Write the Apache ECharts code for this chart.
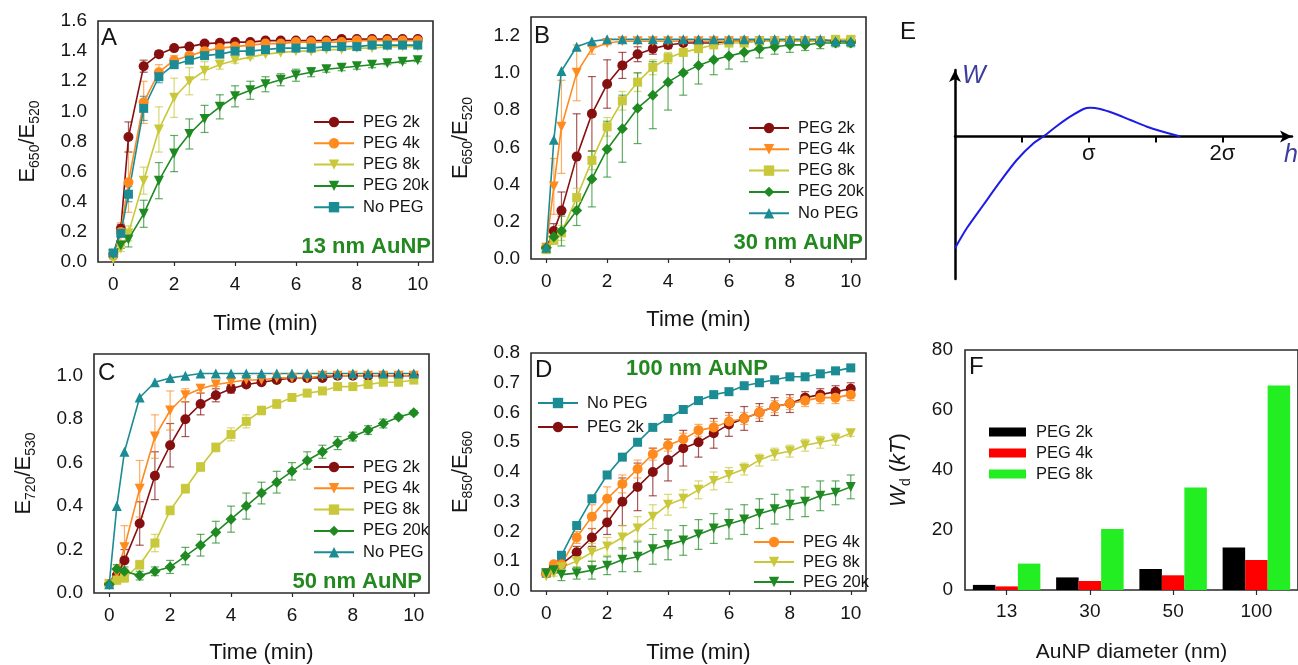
<!DOCTYPE html>
<html><head><meta charset="utf-8">
<script src="https://cdn.jsdelivr.net/npm/echarts@6/dist/echarts.min.js"></script>
<style>html,body{margin:0;padding:0;background:#fff}#c{width:1298px;height:665px}</style>
</head><body><div id="c"></div>
<script>
// ---------- data ----------
const TIME = [0,0.25,0.5,1,1.5,2,2.5,3,3.5,4,4.5,5,5.5,6,6.5,7,7.5,8,8.5,9,9.5,10];
const X_TICKS = [0,2,4,6,8,10];
const A_Y_TICKS = [0,0.2,0.4,0.6,0.8,1.0,1.2,1.4,1.6];
const B_Y_TICKS = [0,0.2,0.4,0.6,0.8,1.0,1.2];
const C_Y_TICKS = [0,0.2,0.4,0.6,0.8,1.0];
const D_Y_TICKS = [0,0.1,0.2,0.3,0.4,0.5,0.6,0.7,0.8];

// Panel A (13 nm)
const A_2K  = [0.05,0.22,0.83,1.30,1.38,1.42,1.43,1.45,1.455,1.46,1.46,1.47,1.47,1.47,1.47,1.47,1.48,1.48,1.48,1.48,1.48,1.48];
const A_4K  = [0.04,0.20,0.53,1.06,1.26,1.34,1.37,1.40,1.42,1.43,1.44,1.45,1.45,1.46,1.46,1.46,1.46,1.47,1.47,1.47,1.47,1.47];
const A_8K  = [0.02,0.09,0.19,0.54,0.88,1.09,1.20,1.27,1.31,1.34,1.36,1.38,1.39,1.40,1.40,1.41,1.41,1.42,1.42,1.43,1.43,1.43];
const A_20K = [0.05,0.11,0.15,0.32,0.54,0.72,0.85,0.95,1.03,1.10,1.14,1.18,1.21,1.24,1.26,1.28,1.29,1.30,1.31,1.32,1.33,1.34];
const A_NO  = [0.06,0.19,0.45,1.02,1.23,1.31,1.34,1.37,1.38,1.40,1.40,1.41,1.42,1.42,1.42,1.43,1.43,1.43,1.44,1.44,1.44,1.44];
const A_2K_ERR  = [0,0.03,0.10,0.04,0.02,0.01,0,0,0,0,0,0,0,0,0,0,0,0,0,0,0,0];
const A_4K_ERR  = [0,0.06,0.20,0.14,0.05,0.03,0.02,0,0,0,0,0,0,0,0,0,0,0,0,0,0,0];
const A_8K_ERR  = [0,0.02,0.05,0.09,0.15,0.13,0.09,0.06,0.03,0.02,0.01,0,0,0,0,0,0,0,0,0,0,0];
const A_20K_ERR = [0,0.02,0.05,0.09,0.12,0.12,0.10,0.09,0.08,0.07,0.06,0.05,0.04,0.04,0.03,0.02,0.02,0.02,0.02,0.01,0.01,0.01];
const A_NO_ERR  = [0,0.02,0.05,0.08,0.04,0.02,0.01,0,0,0,0,0,0,0,0,0,0,0,0,0,0,0];

// Panel B (30 nm)
const B_2K  = [0.06,0.15,0.26,0.55,0.78,0.94,1.04,1.10,1.13,1.15,1.16,1.16,1.16,1.17,1.17,1.17,1.17,1.17,1.17,1.17,1.17,1.17];
const B_4K  = [0.06,0.39,0.71,1.00,1.13,1.16,1.17,1.17,1.17,1.17,1.17,1.17,1.17,1.17,1.17,1.17,1.17,1.17,1.17,1.17,1.17,1.17];
const B_8K  = [0.05,0.10,0.14,0.33,0.53,0.71,0.85,0.95,1.03,1.08,1.11,1.13,1.15,1.16,1.16,1.17,1.17,1.17,1.17,1.17,1.18,1.18];
const B_20K = [0.06,0.12,0.15,0.26,0.43,0.59,0.70,0.81,0.88,0.95,1.00,1.04,1.07,1.09,1.11,1.13,1.14,1.15,1.15,1.16,1.16,1.16];
const B_NO  = [0.06,0.64,1.01,1.14,1.17,1.18,1.18,1.18,1.18,1.18,1.18,1.18,1.18,1.18,1.18,1.18,1.18,1.18,1.18,1.18,1.17,1.17];
const B_2K_ERR  = [0,0.04,0.10,0.23,0.20,0.13,0.07,0.04,0.03,0.02,0.01,0,0,0,0,0,0,0,0,0,0,0];
const B_4K_ERR  = [0,0.15,0.25,0.15,0.03,0.01,0,0,0,0,0,0,0,0,0,0,0,0,0,0,0,0];
const B_8K_ERR  = [0,0.02,0.04,0.05,0.05,0.05,0.05,0.05,0.04,0.03,0.02,0.01,0,0,0,0,0,0,0,0,0,0];
const B_20K_ERR = [0,0.03,0.08,0.08,0.15,0.15,0.18,0.19,0.18,0.15,0.12,0.10,0.08,0.07,0.05,0.05,0.04,0.04,0.03,0.03,0.02,0.02];
const B_NO_ERR  = [0,0,0,0,0,0,0,0,0,0,0,0,0,0,0,0,0,0,0,0,0,0];

// Panel C (50 nm)
const C_2K  = [0.04,0.08,0.15,0.32,0.54,0.68,0.80,0.87,0.91,0.94,0.96,0.97,0.98,0.99,0.99,0.99,1.00,1.00,1.00,1.00,1.00,1.00];
const C_4K  = [0.04,0.09,0.21,0.48,0.72,0.84,0.91,0.94,0.96,0.97,0.98,0.98,0.99,0.99,0.99,1.00,1.00,1.00,1.00,1.00,1.00,1.00];
const C_8K  = [0.04,0.06,0.07,0.13,0.23,0.38,0.48,0.58,0.67,0.73,0.79,0.84,0.87,0.90,0.92,0.93,0.95,0.95,0.96,0.97,0.97,0.98];
const C_20K = [0.04,0.11,0.10,0.08,0.10,0.12,0.17,0.22,0.28,0.34,0.40,0.46,0.51,0.56,0.61,0.65,0.69,0.72,0.75,0.78,0.81,0.83];
const C_NO  = [0.04,0.40,0.65,0.90,0.97,0.99,1.00,1.01,1.01,1.01,1.01,1.01,1.01,1.01,1.01,1.01,1.01,1.01,1.01,1.01,1.01,1.01];
const C_2K_ERR  = [0,0.03,0.05,0.10,0.11,0.10,0.08,0.05,0.03,0.02,0.01,0,0,0,0,0,0,0,0,0,0,0];
const C_4K_ERR  = [0,0.04,0.10,0.13,0.10,0.09,0.03,0.02,0.01,0,0,0,0,0,0,0,0,0,0,0,0,0];
const C_8K_ERR  = [0,0.02,0.02,0.02,0.04,0.02,0.02,0.02,0.02,0.03,0.03,0.02,0.02,0.01,0.01,0.01,0.01,0.01,0.01,0.01,0.01,0.01];
const C_20K_ERR = [0,0.02,0.02,0.02,0.02,0.03,0.04,0.05,0.05,0.06,0.06,0.05,0.05,0.04,0.04,0.03,0.03,0.02,0.02,0.02,0.01,0.01];
const C_NO_ERR  = [0,0,0,0,0,0,0,0,0,0,0,0,0,0,0,0,0,0,0,0,0,0];

// Panel D (100 nm)
const D_NO  = [0.06,0.08,0.12,0.22,0.31,0.39,0.45,0.50,0.55,0.58,0.61,0.64,0.66,0.67,0.69,0.70,0.71,0.72,0.72,0.73,0.74,0.75];
const D_2K  = [0.06,0.08,0.09,0.13,0.18,0.23,0.30,0.35,0.40,0.44,0.48,0.50,0.53,0.56,0.58,0.60,0.62,0.63,0.65,0.66,0.67,0.68];
const D_4K  = [0.06,0.09,0.09,0.18,0.25,0.31,0.36,0.41,0.46,0.49,0.51,0.54,0.55,0.57,0.58,0.60,0.62,0.63,0.64,0.65,0.65,0.66];
const D_8K  = [0.05,0.06,0.08,0.10,0.13,0.15,0.18,0.21,0.25,0.29,0.31,0.34,0.37,0.39,0.41,0.44,0.46,0.47,0.49,0.50,0.51,0.53];
const D_20K = [0.06,0.07,0.055,0.06,0.07,0.085,0.105,0.115,0.14,0.155,0.17,0.19,0.21,0.225,0.24,0.26,0.275,0.29,0.30,0.32,0.33,0.35];
const D_NO_ERR  = [0,0,0,0,0,0,0,0,0,0,0,0,0,0,0,0,0,0,0,0,0,0];
const D_2K_ERR  = [0,0.01,0.01,0.02,0.03,0.04,0.08,0.08,0.08,0.07,0.06,0.05,0.05,0.04,0.04,0.03,0.03,0.03,0.02,0.02,0.02,0.02];
const D_4K_ERR  = [0,0.01,0.01,0.02,0.04,0.04,0.03,0.03,0.02,0.02,0.02,0.02,0.02,0.02,0.02,0.02,0.02,0.02,0.02,0.02,0.02,0.02];
const D_8K_ERR  = [0,0.01,0.01,0.02,0.03,0.03,0.04,0.04,0.04,0.035,0.03,0.03,0.03,0.025,0.02,0.02,0.02,0.02,0.02,0.02,0.02,0.01];
const D_20K_ERR = [0,0.01,0.02,0.02,0.03,0.03,0.04,0.05,0.05,0.05,0.05,0.05,0.05,0.05,0.05,0.05,0.05,0.05,0.05,0.05,0.04,0.04];

// Panel E (schematic potential curve, h in units of sigma)
const E_H = [0,0.088,0.212,0.337,0.462,0.587,0.661,0.762,0.861,0.961,1.011,1.086,1.186,1.311,1.436,1.536,1.685];
const E_W = [-11.18,-9.18,-6.85,-4.52,-2.35,-0.68,0,1.05,1.98,2.75,2.88,2.75,2.32,1.65,0.98,0.55,0];
const E_TICKS = [0.5,1,1.5,2];
const E_LABELS = [1,2];

// Panel F (bars)
const F_CATS = ['13','30','50','100'];
const F_2K = [1.7,4.2,7.0,14.2];
const F_4K = [1.2,3.0,4.9,10.0];
const F_8K = [8.8,20.3,34.2,68.2];

// ---------- styling ----------
const FONT = '"Liberation Sans", Arial, sans-serif';
const TXT = '#151515';
const COL = {k2:'#861010', k4:'#ff8a1e', k8:'#c8c83a', k20:'#1f8a22', no:'#1b8b94'};

const grids = [], xAxes = [], yAxes = [], series = [], legends = [];

function errRender(color){
  return function(params, api){
    const x = api.value(0);
    const lo = api.coord([x, api.value(1)]);
    const hi = api.coord([x, api.value(2)]);
    const w = 4;
    const st = {stroke: color, lineWidth: 1.2, opacity: 0.7};
    return {type:'group', children:[
      {type:'line', shape:{x1:lo[0],y1:lo[1],x2:hi[0],y2:hi[1]}, style:st},
      {type:'line', shape:{x1:lo[0]-w,y1:lo[1],x2:lo[0]+w,y2:lo[1]}, style:st},
      {type:'line', shape:{x1:hi[0]-w,y1:hi[1],x2:hi[0]+w,y2:hi[1]}, style:st}
    ]};
  };
}

const eRich = {
  m:{fontSize:22, fontFamily:FONT, color:TXT, lineHeight:28, verticalAlign:'middle'},
  s:{fontSize:14, fontFamily:FONT, color:TXT, lineHeight:14, verticalAlign:'bottom'}
};
function eName(a,b){ return '{m|E}{s|'+a+'}{m|/E}{s|'+b+'}'; }

function addPanel(p){
  const gi = grids.length;
  grids.push({left:p.left, top:p.top, width:p.width, height:p.height, show:true,
    borderColor:'#2a2a2a', borderWidth:1.6, backgroundColor:'transparent'});
  xAxes.push({type:'value', gridIndex:gi, min:-0.5, max:10.5,
    axisLine:{show:false}, splitLine:{show:false},
    axisTick:{show:true, customValues:X_TICKS, length:4, lineStyle:{color:'#2a2a2a', width:1.2}},
    axisLabel:{customValues:X_TICKS, fontSize:19, color:TXT, fontFamily:FONT, margin:13},
    name:'Time (min)', nameLocation:'middle', nameGap:p.xGap,
    nameTextStyle:{fontSize:22, color:TXT, fontFamily:FONT}});
  yAxes.push({type:'value', gridIndex:gi, min:0, max:p.yMax,
    axisLine:{show:false}, splitLine:{show:false}, axisTick:{show:false},
    axisLabel:{customValues:p.yTicks, fontSize:19, color:TXT, fontFamily:FONT, margin:11,
      formatter: v => v.toFixed(1)},
    name:eName(p.sub[0], p.sub[1]), nameLocation:'middle', nameRotate:90, nameGap:56,
    nameTextStyle:{rich:eRich}});
  p.series.forEach(s => {
    const nm = p.id + '|' + s.name;
    series.push({type:'custom', name:nm+' err', xAxisIndex:gi, yAxisIndex:gi, z:2,
      encode:{x:0, y:[1,2]}, renderItem: errRender(s.color),
      data: TIME.map((t,i)=>[t, s.vals[i]-s.errs[i], s.vals[i]+s.errs[i], s.errs[i]]).filter(d=>d[3]>0)});
    series.push({type:'line', name:nm, xAxisIndex:gi, yAxisIndex:gi, z:3,
      data: TIME.map((t,i)=>[t, s.vals[i]]),
      symbol:s.sym, symbolRotate:s.rot||0, symbolSize:s.size, showSymbol:true,
      itemStyle:{color:s.color}, lineStyle:{color:s.color, width:1.6}, animation:false});
  });
}

function leg(id, names, left, top, gap){
  legends.push({data:names.map(n=>id+'|'+n), left:left, top:top, orient:'vertical',
    padding:0, itemGap:gap, itemWidth:40, itemHeight:13,
    formatter: n => n.split('|')[1],
    textStyle:{fontSize:16.5, color:TXT, fontFamily:FONT, padding:[0,0,0,4], lineHeight:18},
    selectedMode:false});
}

addPanel({id:'A', left:98, top:21, width:335, height:241, yMax:1.6, yTicks:A_Y_TICKS, sub:['650','520'], xGap:51,
  series:[
    {name:'PEG 2k', sym:'circle', size:10, color:COL.k2, vals:A_2K, errs:A_2K_ERR},
    {name:'PEG 4k', sym:'circle', size:10, color:COL.k4, vals:A_4K, errs:A_4K_ERR},
    {name:'PEG 8k', sym:'triangle', rot:180, size:10, color:COL.k8, vals:A_8K, errs:A_8K_ERR},
    {name:'PEG 20k', sym:'triangle', rot:180, size:10, color:COL.k20, vals:A_20K, errs:A_20K_ERR},
    {name:'No PEG', sym:'rect', size:9, color:COL.no, vals:A_NO, errs:A_NO_ERR}
  ]});
addPanel({id:'B', left:531, top:17, width:335, height:242, yMax:1.3, yTicks:B_Y_TICKS, sub:['650','520'], xGap:50,
  series:[
    {name:'PEG 2k', sym:'circle', size:10, color:COL.k2, vals:B_2K, errs:B_2K_ERR},
    {name:'PEG 4k', sym:'triangle', rot:180, size:10, color:COL.k4, vals:B_4K, errs:B_4K_ERR},
    {name:'PEG 8k', sym:'rect', size:9, color:COL.k8, vals:B_8K, errs:B_8K_ERR},
    {name:'PEG 20k', sym:'diamond', size:11, color:COL.k20, vals:B_20K, errs:B_20K_ERR},
    {name:'No PEG', sym:'triangle', size:10, color:COL.no, vals:B_NO, errs:B_NO_ERR}
  ]});
addPanel({id:'C', left:94, top:354, width:335, height:241, yMax:1.1, yTicks:C_Y_TICKS, sub:['720','530'], xGap:49,
  series:[
    {name:'PEG 2k', sym:'circle', size:10, color:COL.k2, vals:C_2K, errs:C_2K_ERR},
    {name:'PEG 4k', sym:'triangle', rot:180, size:10, color:COL.k4, vals:C_4K, errs:C_4K_ERR},
    {name:'PEG 8k', sym:'rect', size:9, color:COL.k8, vals:C_8K, errs:C_8K_ERR},
    {name:'PEG 20k', sym:'diamond', size:11, color:COL.k20, vals:C_20K, errs:C_20K_ERR},
    {name:'No PEG', sym:'triangle', size:10, color:COL.no, vals:C_NO, errs:C_NO_ERR}
  ]});
addPanel({id:'D', left:531, top:353, width:335, height:240, yMax:0.8, yTicks:D_Y_TICKS, sub:['850','560'], xGap:51,
  series:[
    {name:'No PEG', sym:'rect', size:9, color:COL.no, vals:D_NO, errs:D_NO_ERR},
    {name:'PEG 2k', sym:'circle', size:10, color:COL.k2, vals:D_2K, errs:D_2K_ERR},
    {name:'PEG 4k', sym:'circle', size:10, color:COL.k4, vals:D_4K, errs:D_4K_ERR},
    {name:'PEG 8k', sym:'triangle', rot:180, size:10, color:COL.k8, vals:D_8K, errs:D_8K_ERR},
    {name:'PEG 20k', sym:'triangle', rot:180, size:10, color:COL.k20, vals:D_20K, errs:D_20K_ERR}
  ]});

leg('A', ['PEG 2k','PEG 4k','PEG 8k','PEG 20k','No PEG'], 313, 113, 3.3);
leg('B', ['PEG 2k','PEG 4k','PEG 8k','PEG 20k','No PEG'], 748, 119, 3.3);
leg('C', ['PEG 2k','PEG 4k','PEG 8k','PEG 20k','No PEG'], 313, 458, 3.3);
leg('D', ['No PEG','PEG 2k'], 537, 394, 6);
leg('D', ['PEG 4k','PEG 8k','PEG 20k'], 753, 533, 2);

// Panel E
const gE = grids.length;
grids.push({left:955, top:70, width:337, height:209, show:false});
xAxes.push({type:'value', gridIndex:gE, min:0, max:2.52, position:'bottom', offset:-142.5,
  axisLine:{show:true, onZero:false, symbol:['none','arrow'], symbolSize:[9,12], lineStyle:{color:'#000', width:2.5}},
  axisTick:{show:true, customValues:E_TICKS, length:6, lineStyle:{color:'#000', width:2}},
  axisLabel:{customValues:E_LABELS, formatter: v => (v===1?'σ':'2σ'), fontSize:22, color:TXT, fontFamily:FONT, margin:6},
  splitLine:{show:false}});
yAxes.push({type:'value', gridIndex:gE, min:-14.25, max:6.65,
  axisLine:{show:true, onZero:false, symbol:['none','arrow'], symbolSize:[9,12], lineStyle:{color:'#000', width:2.5}},
  axisTick:{show:false}, axisLabel:{show:false}, splitLine:{show:false}});
series.push({type:'line', name:'E|W', xAxisIndex:gE, yAxisIndex:gE, smooth:0.3, showSymbol:false,
  data:E_H.map((h,i)=>[h,E_W[i]]), lineStyle:{color:'#1c1ce6', width:2}, animation:false});

// Panel F
const gF = grids.length;
grids.push({left:965, top:350, width:334, height:240, show:true, borderColor:'#2a2a2a', borderWidth:1.6});
xAxes.push({type:'category', gridIndex:gF, data:F_CATS,
  axisLine:{show:false}, axisTick:{show:true, alignWithLabel:true, length:5, lineStyle:{color:'#2a2a2a', width:1.2}},
  axisLabel:{fontSize:19, color:TXT, fontFamily:FONT, margin:12},
  name:'AuNP diameter (nm)', nameLocation:'middle', nameGap:52,
  nameTextStyle:{fontSize:21, color:TXT, fontFamily:FONT}});
yAxes.push({type:'value', gridIndex:gF, min:0, max:80, interval:20,
  axisLine:{show:false}, axisTick:{show:false}, splitLine:{show:false},
  axisLabel:{fontSize:19, color:TXT, fontFamily:FONT, margin:12},
  name:'{i|W}{d|d}{n| (}{i|kT}{n|)}', nameLocation:'middle', nameRotate:90, nameGap:52,
  nameTextStyle:{rich:{
    i:{fontSize:22, fontStyle:'italic', fontFamily:FONT, color:TXT, lineHeight:28, verticalAlign:'middle'},
    n:{fontSize:22, fontFamily:FONT, color:TXT, lineHeight:28, verticalAlign:'middle'},
    d:{fontSize:14, fontFamily:FONT, color:TXT, lineHeight:14, verticalAlign:'bottom'}}}});
[['PEG 2k',F_2K,'#000000'],['PEG 4k',F_4K,'#ff0000'],['PEG 8k',F_8K,'#22ee22']].forEach(b=>{
  series.push({type:'bar', name:'F|'+b[0], xAxisIndex:gF, yAxisIndex:gF, data:b[1], barWidth:22.5, barGap:'0%',
    itemStyle:{color:b[2]}, animation:false});
});
legends.push({data:['F|PEG 2k','F|PEG 4k','F|PEG 8k'], left:989, top:423, orient:'vertical', padding:0,
  itemGap:3, itemWidth:37, itemHeight:9, icon:'rect', selectedMode:false,
  formatter: n => n.split('|')[1],
  textStyle:{fontSize:16.5, color:TXT, fontFamily:FONT, padding:[0,0,0,5], lineHeight:18}});

// text annotations
function txt(t, x, y, o){
  return Object.assign({type:'text', x:x, y:y, z:100,
    style:Object.assign({text:t, fill:TXT, fontFamily:FONT, fontSize:24, align:'left', verticalAlign:'middle'}, o||{})});
}
const GREEN = '#23881f';
const graphics = [
  txt('A', 101, 38), txt('B', 534, 36), txt('C', 98, 373), txt('D', 535, 370),
  txt('E', 900, 32), txt('F', 969, 367),
  txt('13 nm AuNP', 431, 247, {fill:GREEN, fontWeight:'bold', fontSize:22, align:'right'}),
  txt('30 nm AuNP', 863, 243, {fill:GREEN, fontWeight:'bold', fontSize:22, align:'right'}),
  txt('50 nm AuNP', 422, 582, {fill:GREEN, fontWeight:'bold', fontSize:22, align:'right'}),
  txt('100 nm AuNP', 626, 369, {fill:GREEN, fontWeight:'bold', fontSize:22, align:'left'}),
  txt('W', 962, 76, {fill:'#3d3d9e', fontStyle:'italic', fontSize:25}),
  txt('h', 1284, 155, {fill:'#3d3d9e', fontStyle:'italic', fontSize:25})
];

const chart = echarts.init(document.getElementById('c'), null, {renderer:'canvas'});
chart.setOption({
  backgroundColor:'#ffffff',
  animation:false,
  grid:grids, xAxis:xAxes, yAxis:yAxes, legend:legends, series:series, graphic:graphics
});
</script></body></html>
